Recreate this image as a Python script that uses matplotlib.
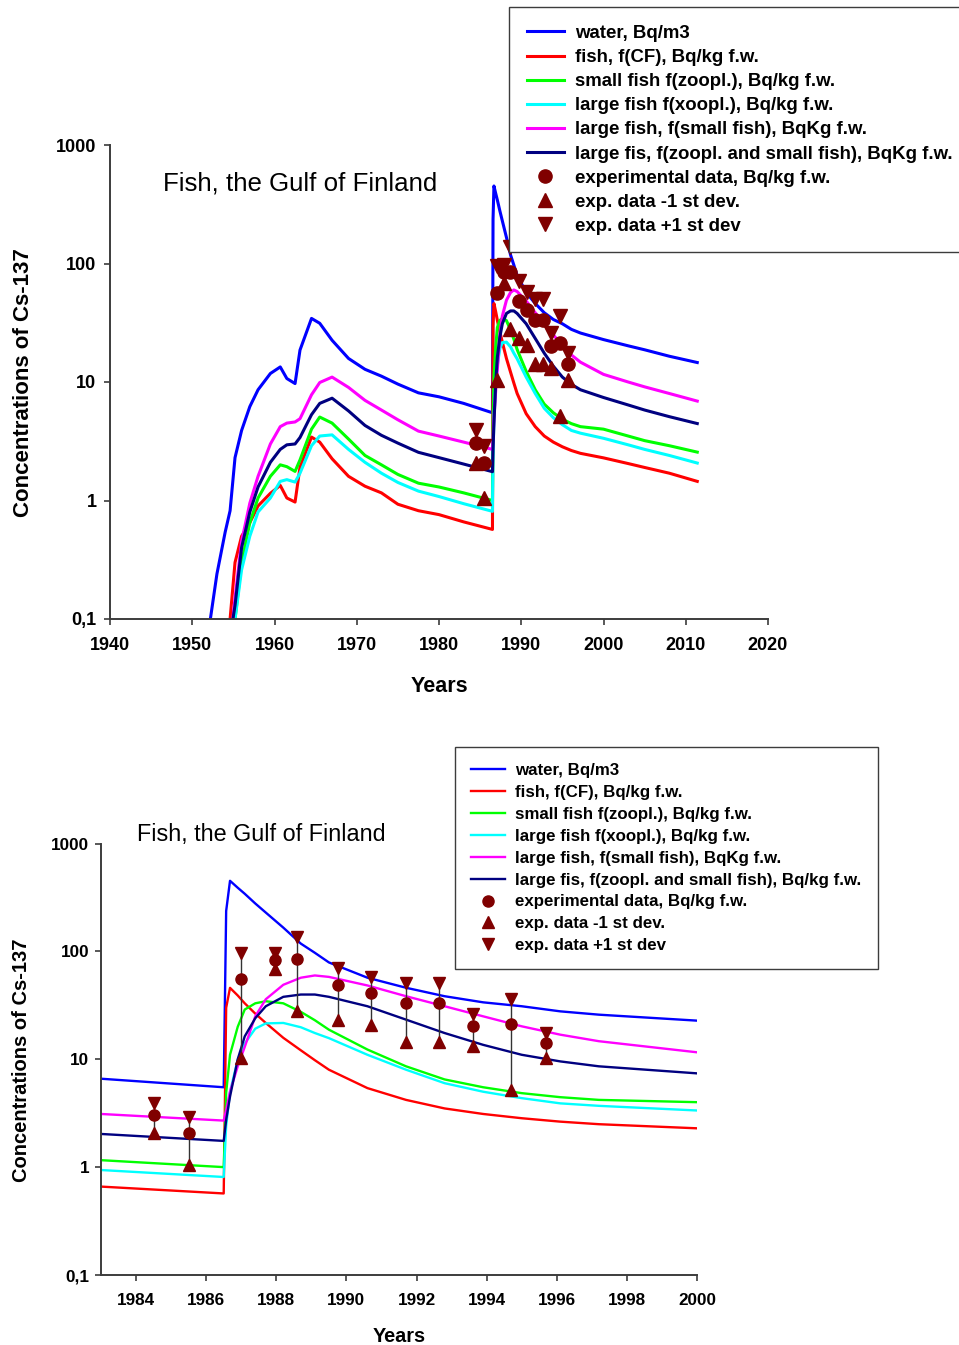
import numpy as np
import matplotlib
matplotlib.use('Agg')
import matplotlib.pyplot as plt
from matplotlib.ticker import NullLocator

plt.rcParams['font.family'] = ['Liberation Sans', 'DejaVu Sans']

# model time axis (years), shared by all model curves
years = [1952.0, 1953.0, 1954.0, 1954.6, 1955.2, 1956.0, 1957.0, 1958.0, 1959.5, 1960.7,
         1961.5, 1962.5, 1963.1, 1964.5, 1965.5, 1967.0, 1969.0, 1971.0, 1973.0, 1975.0,
         1977.5, 1980.0, 1983.0, 1986.5, 1986.57, 1986.68, 1986.9, 1987.1, 1987.4, 1987.7,
         1988.2, 1988.7, 1989.1, 1989.5, 1990.6, 1991.7, 1992.8, 1993.9, 1995.0, 1996.1,
         1997.2, 2000.0, 2003.0, 2005.0, 2008.0, 2011.4]

water = [0.08, 0.24, 0.54, 0.82, 2.3, 3.9, 6.2, 8.6, 11.8, 13.4,
         10.7, 9.7, 18.6, 34.4, 31.3, 22.5, 15.8, 12.8, 11.2, 9.6,
         8.1, 7.5, 6.6, 5.5, 237, 451, 389, 342, 278, 229,
         166, 118, 97, 79, 57, 46, 38.4, 33.7, 31.0, 27.8,
         25.9, 22.8, 20.2, 18.7, 16.5, 14.6]

fish_cf = [0.01, 0.01, 0.03, 0.1, 0.3, 0.5, 0.65, 0.9, 1.15, 1.34,
           1.05, 0.97, 1.91, 3.43, 3.11, 2.25, 1.6, 1.32, 1.16, 0.93,
           0.82, 0.76, 0.66, 0.57, 30, 45.9, 39, 33, 26.5, 21.7,
           15.8, 12.1, 9.8, 8.0, 5.4, 4.2, 3.5, 3.11, 2.84, 2.64,
           2.5, 2.29, 2.05, 1.9, 1.7, 1.45]

small_fish = [0.01, 0.01, 0.02, 0.03, 0.1, 0.3, 0.65, 1.05, 1.6, 2.0,
              1.93, 1.76, 2.2, 4.0, 5.06, 4.5, 3.3, 2.4, 2.0, 1.66,
              1.4, 1.3, 1.16, 1.0, 4.9, 11, 20, 28.9, 33, 34.5,
              33, 27.5, 23, 18.8, 12.3, 8.6, 6.5, 5.5, 4.85, 4.45,
              4.2, 4.0, 3.5, 3.2, 2.9, 2.56]

large_fish_zoo = [0.01, 0.01, 0.02, 0.03, 0.1, 0.26, 0.5, 0.8, 1.05, 1.45,
                  1.5, 1.43, 1.7, 2.9, 3.5, 3.58, 2.7, 2.1, 1.7, 1.42,
                  1.2, 1.08, 0.94, 0.81, 2.4, 5.0, 9.9, 14, 19.2, 21.5,
                  21.7, 19.8, 17.5, 15.7, 11.0, 8.0, 6.0, 5.0, 4.36, 3.9,
                  3.7, 3.35, 2.95, 2.7, 2.4, 2.07]

large_fish_small = [0.01, 0.02, 0.04, 0.06, 0.15, 0.45, 0.95, 1.6, 3.0, 4.2,
                    4.5, 4.6, 4.9, 7.8, 9.9, 11.0, 9.0, 7.0, 5.8, 4.8,
                    3.85, 3.5, 3.11, 2.7, 3.39, 5.0, 8.6, 13, 25, 36,
                    49, 57, 59.8, 58, 48.3, 38.4, 31.0, 25.0, 20.2, 16.9,
                    14.7, 11.6, 10.0, 9.1, 8.0, 6.9]

large_fish_mix = [0.01, 0.01, 0.03, 0.07, 0.13, 0.4, 0.8, 1.3, 2.1, 2.7,
                  2.95, 3.0, 3.4, 5.3, 6.6, 7.3, 5.7, 4.3, 3.55, 3.05,
                  2.55, 2.3, 2.03, 1.75, 2.74, 4.5, 10, 16.3, 24, 31,
                  37.9, 39.8, 39.8, 37.9, 31.0, 23.3, 17.5, 13.6, 11.0, 9.55,
                  8.6, 7.4, 6.4, 5.8, 5.1, 4.46]

# experimental data, Bq/kg f.w.
exp_years = [1984.5, 1985.5, 1987.0, 1987.95, 1988.6, 1989.75, 1990.7, 1991.7, 1992.65, 1993.6, 1994.7, 1995.7]
exp_mean = [3.05, 2.06, 56, 84, 85.5, 48.6, 40.7, 33.3, 33.3, 20.2, 21.3, 14.2]
exp_minus = [2.06, 1.04, 10.3, 69, 27.8, 23.3, 20.6, 14.3, 14.3, 13.2, 5.2, 10.3]
exp_plus = [3.9, 2.9, 96, 97, 137, 70.5, 58, 50.4, 50.4, 26, 35.8, 17.5]

labels_top = ['water, Bq/m3', 'fish, f(CF), Bq/kg f.w.', 'small fish f(zoopl.), Bq/kg f.w.',
              'large fish f(xoopl.), Bq/kg f.w.', 'large fish, f(small fish), BqKg f.w.',
              'large fis, f(zoopl. and small fish), BqKg f.w.', 'experimental data, Bq/kg f.w.',
              'exp. data -1 st dev.', 'exp. data +1 st dev']
labels_bottom = labels_top[:5] + ['large fis, f(zoopl. and small fish), Bq/kg f.w.'] + labels_top[6:]

colors = ['#0000ff', '#ff0000', '#00ff00', '#00ffff', '#ff00ff', '#000080']
DARKRED = '#800000'
AXCOL = '#3c3c3c'


def draw_panel(ax, lw, ms, errbars, xticks, ticksize, xpad, ypad):
    series = [water, fish_cf, small_fish, large_fish_zoo, large_fish_small, large_fish_mix]
    handles = []
    for s, c in zip(series, colors):
        h, = ax.plot(years, s, color=c, lw=lw, zorder=2)
        handles.append(h)
    if errbars:  # vertical bars -1 .. +1 st dev
        ax.vlines(exp_years, exp_minus, exp_plus, colors='#333333', lw=1.0, zorder=3)
    for y, m in [(exp_mean, 'o'), (exp_minus, '^'), (exp_plus, 'v')]:
        h, = ax.plot(exp_years, y, m, color=DARKRED, ms=ms, ls='none', zorder=4)
        handles.append(h)

    ax.set_yscale('log')
    ax.set_ylim(0.1, 1000)
    ax.set_yticks([0.1, 1, 10, 100, 1000])
    ax.set_yticklabels(['0,1', '1', '10', '100', '1000'], fontweight='bold', fontsize=ticksize)
    ax.yaxis.set_minor_locator(NullLocator())
    ax.set_xticks(xticks)
    ax.set_xticklabels([str(x) for x in xticks], fontweight='bold', fontsize=ticksize)
    for sp in ['top', 'right']:
        ax.spines[sp].set_visible(False)
    for sp in ['left', 'bottom']:
        ax.spines[sp].set_color(AXCOL)
        ax.spines[sp].set_linewidth(1.4)
    ax.tick_params(direction='out', length=4.3, width=1.2, color=AXCOL)
    ax.tick_params(axis='x', pad=xpad)
    ax.tick_params(axis='y', pad=ypad)
    return handles


def add_legend(fig, handles, labels, x, y, size, spacing):
    leg = fig.legend(handles, labels, loc='upper left', bbox_to_anchor=(x, y),
                     bbox_transform=fig.transFigure, borderaxespad=0, fancybox=False,
                     prop={'weight': 'bold', 'size': size}, handlelength=2.0, handletextpad=0.6,
                     borderpad=0.95, labelspacing=spacing, numpoints=1, framealpha=1)
    leg.get_frame().set_edgecolor(AXCOL)
    leg.get_frame().set_linewidth(1.0)
    return leg


W, H = 959, 1345
fig = plt.figure(figsize=(W / 100, H / 100), dpi=100)

# top panel: whole period
ax1 = fig.add_axes([110 / W, 1 - 619 / H, 658 / W, 474 / H])
ax1.set_xlim(1940, 2020)
h1 = draw_panel(ax1, 2.2, 9.5, False, list(range(1940, 2021, 10)), 13, 9, 5.5)
fig.text(163 / W, 1 - 190 / H, 'Fish, the Gulf of Finland', fontsize=18.6, ha='left', va='baseline')
fig.text(24 / W, 1 - 382.5 / H, 'Concentrations of Cs-137', fontsize=16, fontweight='bold',
         rotation=90, ha='center', va='center')
fig.text(439 / W, 1 - 686 / H, 'Years', fontsize=15.5, fontweight='bold', ha='center', va='center')
add_legend(fig, h1, labels_top, 509 / W, 1 - 7.3 / H, 13.4, 0.38)

# bottom panel: zoom on 1983-2000
ax2 = fig.add_axes([101 / W, 1 - 1275 / H, 596 / W, 431.5 / H])
ax2.set_xlim(1983, 2000)
h2 = draw_panel(ax2, 1.7, 8, True, list(range(1984, 2001, 2)), 12.3, 8.5, 4)
fig.text(137 / W, 1 - 840.5 / H, 'Fish, the Gulf of Finland', fontsize=16.8, ha='left', va='baseline')
fig.text(22 / W, 1 - 1060 / H, 'Concentrations of Cs-137', fontsize=14.5, fontweight='bold',
         rotation=90, ha='center', va='center')
fig.text(399 / W, 1 - 1336 / H, 'Years', fontsize=14.3, fontweight='bold', ha='center', va='center')
add_legend(fig, h2, labels_bottom, 455 / W, 1 - 746.7 / H, 12.2, 0.41)

fig.savefig('out.png', dpi=100)
